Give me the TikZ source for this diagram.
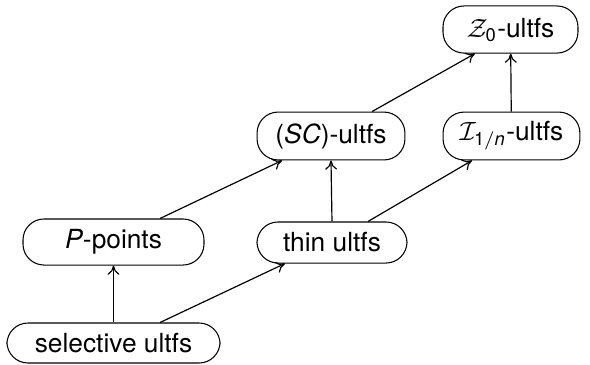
\documentclass[tikz,border=0pt]{standalone}
\usepackage{amsmath}
\usepackage{fontspec}
\setmainfont{TeX Gyre Heros}
\usetikzlibrary{arrows.meta}

\begin{document}
\begin{tikzpicture}[x=0.38pt,y=-0.38pt,
    ultf/.style={draw,rounded corners=8pt,inner sep=0pt,font=\fontsize{10}{12}\selectfont},
    imp/.style={-{To[length=3.5pt,width=4.5pt]},line width=0.45pt}]
      \useasboundingbox (0,0) rectangle (590,364);

      \node[ultf,minimum width=51.3pt,minimum height=17.9pt] (zero) at (510.5,29.5) {$\mathcal{Z}_{\text{0}}$-ultfs};

      \node[ultf,minimum width=56.2pt,minimum height=18.2pt] (sc) at (331,136) {(\textit{SC})-ultfs};
      \node[ultf,minimum width=52pt,minimum height=18.2pt] (onen) at (511.5,136) {$\mathcal{I}_{\text{1}/\textit{n}}$-ultfs};

      \node[ultf,minimum width=68.8pt,minimum height=17.5pt] (ppts) at (113.5,242) {\textit{P}-points};
      \node[ultf,minimum width=57pt,minimum height=15.6pt] (thin) at (332,242.5) {thin ultfs};

      \node[ultf,minimum width=81pt,minimum height=15.2pt] (sel) at (113.5,343) {selective ultfs};

      \draw[imp] (sel) -- (ppts);
      \draw[imp] ([xshift=17.7pt]sel.north) -- ([xshift=-17.9pt]thin.south);
      \draw[imp] ([xshift=17.7pt]ppts.north) -- ([xshift=-18.6pt]sc.south);
      \draw[imp] (thin.north) -- (sc.south);
      \draw[imp] ([xshift=13.7pt]thin.north) -- ([xshift=-15pt]onen.south);
      \draw[imp] ([xshift=15.6pt]sc.north) -- ([xshift=-13.5pt]zero.south);
      \draw[imp] (onen) -- (zero);
    \end{tikzpicture}
\end{document}
